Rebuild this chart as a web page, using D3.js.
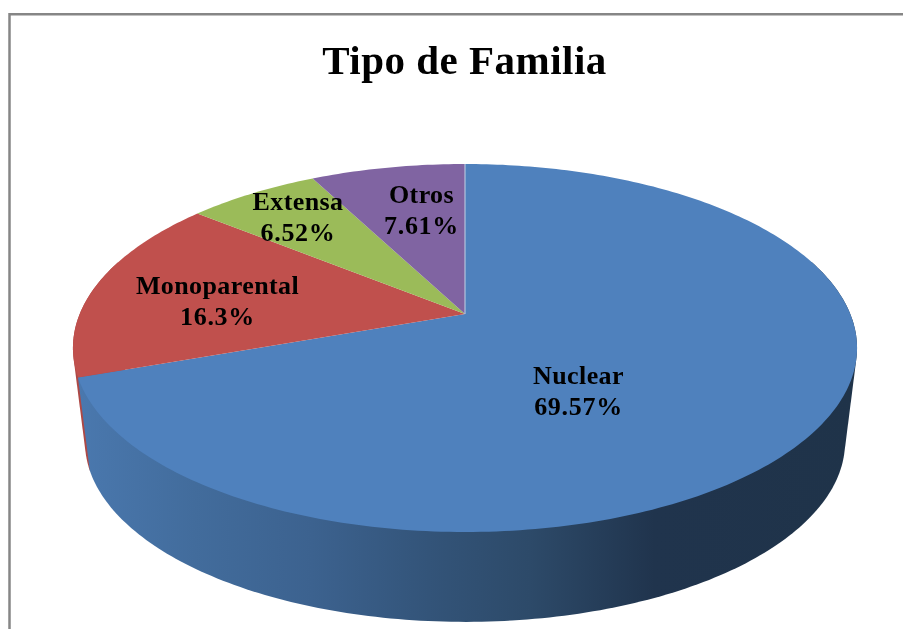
<!DOCTYPE html>
<html lang="en">
<head>
<meta charset="utf-8">
<title>Tipo de Familia</title>
<script src="https://d3js.org/d3.v7.min.js"></script>
<style>
	body { margin: 0; background: #fff; }
	svg { filter: blur(0.4px); }
	text { font-family: "Liberation Serif", serif; font-weight: bold; fill: #000; }
</style>
</head>
<body>
<div id="chart"></div>
<script>
	// data
	var categories = ["Nuclear", "Monoparental", "Extensa", "Otros"];
	var values = [69.57, 16.3, 6.52, 7.61];
	var valueLabels = ["69.57%", "16.3%", "6.52%", "7.61%"];
	var colors = ["#4f81bd", "#c0504d", "#9bbb59", "#8064a2"];
	var title = "Tipo de Familia";

	var width = 903;
	var height = 629;
	var cx = 465;

	var svg = d3.select("#chart").append("svg")
		.attr("width", width)
		.attr("height", height)
		.style("display", "block");

	// chart frame, only top and left are inside the crop
	svg.append("path")
		.attr("d", "M9.5,640V14.3H910")
		.attr("fill", "none")
		.attr("stroke", "#868686")
		.attr("stroke-width", 2.5);

	// tilted disc: circle seen in perspective, so the apex sits above the ellipse centre
	var k = 0.1848;
	function project(a, y0, ax, ay) {
		var u = Math.sin(a), v = Math.cos(a);
		var w = 1 + k * v;
		return [cx + ax * u / w, y0 - ay * v / w];
	}
	function topRim(a) { return project(a, 314, 385.3, 177.7); }
	function bottomRim(a) { return project(a, 408.7, 373.5, 173.8); }

	var pie = d3.pie().sort(null).value(function(d) { return d; });
	var arcs = pie(values);
	var line = d3.line();

	function sweep(a0, a1) {
		var n = Math.max(2, Math.ceil((a1 - a0) * 60));
		return d3.range(n + 1).map(function(i) { return a0 + (a1 - a0) * i / n; });
	}

	var grad = svg.append("defs").append("linearGradient")
		.attr("id", "wall")
		.attr("gradientUnits", "userSpaceOnUse")
		.attr("x1", 78).attr("x2", 857).attr("y1", 0).attr("y2", 0);
	[[0, "#4a78ae"], [0.15, "#426c9c"], [0.3, "#3c628f"], [0.45, "#335479"], [0.58, "#2d4a69"], [0.74, "#20344d"], [1, "#1f3349"]]
		.forEach(function(s) {
			grad.append("stop").attr("offset", s[0]).attr("stop-color", s[1]);
		});

	// side wall: hull of both rims, the top face hides whatever sticks out above
	function wallPath(a0, a1) {
		var angles = sweep(a0, a1);
		var pts = angles.map(function(a) { return topRim(a); })
			.concat(angles.map(function(a) { return bottomRim(a); }));
		return line(d3.polygonHull(pts)) + "Z";
	}
	svg.append("path")
		.attr("d", wallPath(arcs[1].startAngle, Math.PI * 1.6))
		.attr("fill", d3.color(colors[1]).darker(0.3));
	svg.append("path")
		.attr("d", wallPath(Math.PI * 0.4, arcs[0].endAngle))
		.attr("fill", "url(#wall)");

	// top faces
	var apex = [cx, 314];
	svg.selectAll("path.slice")
		.data(arcs)
		.enter()
		.append("path")
		.attr("class", "slice")
		.attr("d", function(d) {
			var pts = sweep(d.startAngle, d.endAngle).map(function(a) { return topRim(a); });
			return line([apex].concat(pts)) + "Z";
		})
		.attr("fill", function(d, i) { return colors[i]; });

	// pale seam between Otros and Nuclear
	svg.append("line")
		.attr("x1", cx).attr("x2", cx)
		.attr("y1", topRim(0)[1]).attr("y2", apex[1])
		.attr("stroke", "#c4d3e6")
		.attr("stroke-width", 1);

	svg.append("text")
		.attr("x", 464.5)
		.attr("y", 74)
		.attr("text-anchor", "middle")
		.style("font-size", "41px")
		.style("letter-spacing", "0.5px")
		.text(title);

	// label centres, placed by hand like the original
	var labelX = [578.5, 217.5, 298, 421.5];
	var labelY = [384, 294, 210, 203];

	var labels = svg.selectAll("g.label")
		.data(categories)
		.enter()
		.append("g")
		.attr("class", "label")
		.attr("transform", function(d, i) { return "translate(" + labelX[i] + "," + labelY[i] + ")"; });
	labels.append("text")
		.attr("text-anchor", "middle")
		.style("font-size", "26px")
		.style("letter-spacing", "0.4px")
		.text(function(d) { return d; });
	labels.append("text")
		.attr("text-anchor", "middle")
		.attr("y", 30.5)
		.style("font-size", "26px")
		.style("letter-spacing", "0.7px")
		.text(function(d, i) { return valueLabels[i]; });
</script>
</body>
</html>
